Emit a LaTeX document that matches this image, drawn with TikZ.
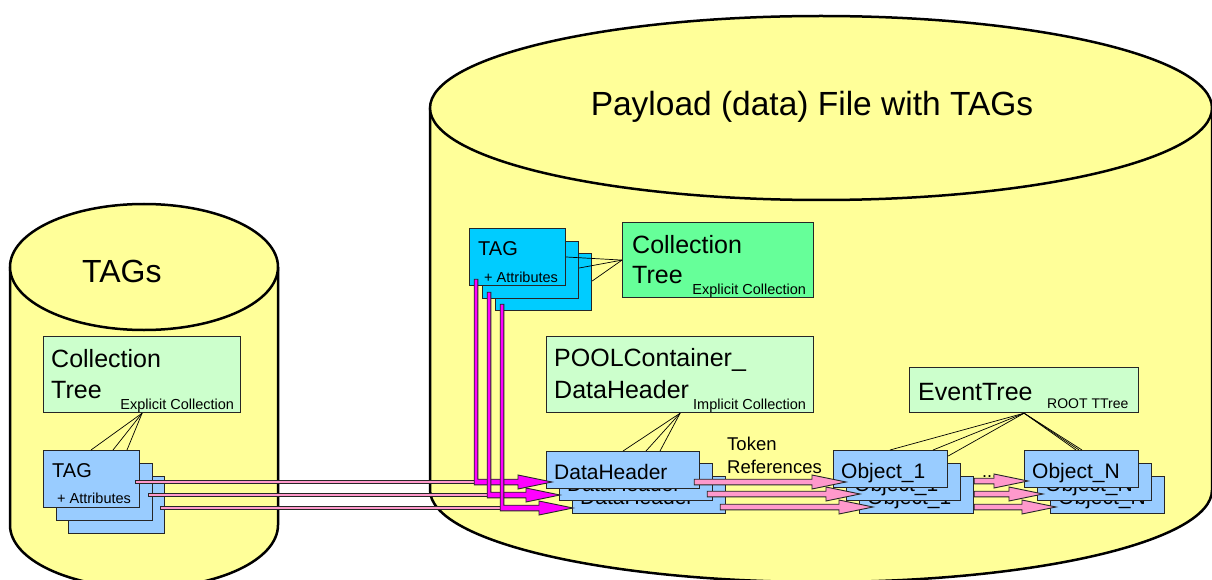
\documentclass[tikz,border=0pt]{standalone}
\usepackage{fontspec}
\setmainfont{Liberation Sans}
\usetikzlibrary{calc}

\definecolor{cylfill}{HTML}{FFFF99}
\definecolor{palegreen}{HTML}{CCFFCC}
\definecolor{brightgreen}{HTML}{66FF99}
\definecolor{lightblue}{HTML}{99CCFF}
\definecolor{tagcyan}{HTML}{00CCFF}
\definecolor{refpink}{HTML}{FF99CC}
\definecolor{refmagenta}{HTML}{FF00FF}

\newcommand\fs[1]{\fontsize{#1}{#1}\selectfont}

% block arrow geometry: shaft half width, thin bar half width, head half width, head length
\def\sw{2.8}
\def\bw{1.8}
\def\hw{7}
\def\hl{34}

% straight horizontal block arrow: fill, start point, node/coordinate giving the tip x
\newcommand\hblock[3]{%
  \coordinate (hb-s) at (#2);
  \coordinate (hb-t) at (hb-s -| #3);
  \filldraw[arrowline, fill=#1]
    ($(hb-s)+(0,-\sw)$) -- ($(hb-t)+(-\hl,-\sw)$) -- ($(hb-t)+(-\hl,-\hw)$) -- (hb-t)
    -- ($(hb-t)+(-\hl,\hw)$) -- ($(hb-t)+(-\hl,\sw)$) -- ($(hb-s)+(0,\sw)$) -- cycle;
}
% thin bar without head: fill, start point, coordinate giving the end x
\newcommand\plainbar[3]{%
  \coordinate (hr-s) at (#2);
  \coordinate (hr-t) at (hr-s -| #3);
  \filldraw[arrowline, fill=#1]
    ($(hr-s)+(0,-\bw)$) -- ($(hr-t)+(0,-\bw)$) -- ($(hr-t)+(0,\bw)$) -- ($(hr-s)+(0,\bw)$) -- cycle;
}
% L-shaped block arrow: fill, top of vertical leg, row point, tip x
\newcommand\lblock[4]{%
  \coordinate (lb-top) at (#2);
  \coordinate (lb-c) at (lb-top |- #3);
  \coordinate (lb-t) at (lb-c -| #4);
  \filldraw[arrowline, fill=#1]
    ($(lb-top)+(-\bw,0)$) -- ($(lb-c)+(-\bw,\sw)$) -- ($(lb-t)+(-\hl,\sw)$)
    -- ($(lb-t)+(-\hl,\hw)$) -- (lb-t) -- ($(lb-t)+(-\hl,-\hw)$)
    -- ($(lb-t)+(-\hl,-\sw)$) -- ($(lb-c)+(\bw,-\sw)$) -- ($(lb-top)+(\bw,0)$) -- cycle;
}

% one box of a stack, with its label
\newcommand\stackbox[6]{% name, x, y, w, fill, text
  \node[box, fill=#5, minimum width=#4] (#1) at (#2,#3) {};
  \node[txt, anchor=base west, font=\fs{21}] (#1-t) at ($(#1.north west)+(8,28)$) {#6};
}
\newcommand\tagbox[4]{% name, x, y, fill
  \node[box, fill=#4, minimum width=96, minimum height=57] (#1) at (#2,#3) {};
}

\begin{document}
\begin{tikzpicture}[x=1pt, y=-1pt,
  box/.style={draw=black!85, line width=1.2, inner sep=0, anchor=north west, minimum height=37},
  txt/.style={inner sep=0, text=black},
  cylline/.style={draw=black, line width=2.5},
  link/.style={draw=black, line width=0.7},
  arrowline/.style={draw=black!85, line width=0.9, line join=miter}]
\useasboundingbox (0,0) rectangle (1212,580);

% ---------- TAG database (left cylinder) ----------
\fill[cylfill] (10,267) -- (10,525) arc[start angle=180, end angle=0, x radius=134, y radius=63] -- (278,267) -- cycle;
\draw[cylline] (10,267) -- (10,525) arc[start angle=180, end angle=0, x radius=134, y radius=63] -- (278,267);
\draw[cylline, fill=cylfill] (144,267) ellipse [x radius=134, y radius=63];
\node[txt, anchor=base west, font=\fs{32}] (tagsTitle) at (82,282) {TAGs};

% ---------- payload file (right cylinder) ----------
\fill[cylfill] (430,108) -- (430,490) arc[start angle=180, end angle=0, x radius=391, y radius=92] -- (1212,108) -- cycle;
\draw[cylline] (430,108) -- (430,490) arc[start angle=180, end angle=0, x radius=391, y radius=92] -- (1212,108);
\draw[cylline, fill=cylfill] (821,108) ellipse [x radius=391, y radius=92];
\node[txt, anchor=base, font=\fs{33.5}] (payTitle) at (812,116) {Payload (data) File with TAGs};

% ---------- left collection tree ----------
\node[box, fill=palegreen, minimum width=197, minimum height=76] (ctL) at (43,336) {};
\node[txt, anchor=base west, font=\fs{25}] (ctL-a) at ($(ctL.north west)+(8,31)$) {Collection};
\node[txt, anchor=base west, font=\fs{25}] (ctL-b) at ($(ctL.north west)+(8,62)$) {Tree};
\node[txt, anchor=base east, font=\fs{14.5}] (ctL-c) at ($(ctL.south east)+(-7,-4)$) {Explicit Collection};

% left TAG stack
\tagbox{tagL3}{68}{476}{lightblue}
\tagbox{tagL2}{56}{463}{lightblue}
\tagbox{tagL1}{43}{450}{lightblue}
\node[txt, anchor=base west, font=\fs{20}] (tagL1-a) at ($(tagL1.north west)+(9,27)$) {TAG};
\node[txt, anchor=base west, font=\fs{14.5}] (tagL1-b) at ($(tagL1.north west)+(14,53)$) {+ Attributes};

\draw[link] (ctL.south) -- ($(tagL1.north west)+(48,0)$);
\draw[link] (ctL.south) -- ($(tagL1.north west)+(70,0)$);
\draw[link] (ctL.south) -- ($(tagL1.north west)+(84,0)$);

% ---------- right collection tree ----------
\node[box, fill=brightgreen, minimum width=191, minimum height=75] (ctR) at (622,222) {};
\node[txt, anchor=base west, font=\fs{25}] (ctR-a) at ($(ctR.north west)+(10,31)$) {Collection};
\node[txt, anchor=base west, font=\fs{25}] (ctR-b) at ($(ctR.north west)+(10,61)$) {Tree};
\node[txt, anchor=base east, font=\fs{14.5}] (ctR-c) at ($(ctR.south east)+(-8,-4)$) {Explicit Collection};

% right TAG stack
\tagbox{tagR3}{495}{253}{tagcyan}
\tagbox{tagR2}{482}{241}{tagcyan}
\tagbox{tagR1}{469}{228}{tagcyan}
\node[txt, anchor=base west, font=\fs{20}] (tagR1-a) at ($(tagR1.north west)+(9,27)$) {TAG};
\node[txt, anchor=base west, font=\fs{14.5}] (tagR1-b) at ($(tagR1.north west)+(15,54)$) {+ Attributes};

\draw[link] (ctR.west) -- ($(tagR1.north east)+(0,29)$);
\draw[link] (ctR.west) -- ($(tagR2.north east)+(0,27)$);
\draw[link] (ctR.west) -- ($(tagR3.north east)+(0,28)$);

% ---------- POOL container ----------
\node[box, fill=palegreen, minimum width=267, minimum height=76] (pool) at (546,336) {};
\node[txt, anchor=base west, font=\fs{25}] (pool-a) at ($(pool.north west)+(8,30)$) {POOLContainer\_};
\node[txt, anchor=base west, font=\fs{25}] (pool-b) at ($(pool.north west)+(8,62)$) {DataHeader};
\node[txt, anchor=base east, font=\fs{14.5}] (pool-c) at ($(pool.south east)+(-8,-4)$) {Implicit Collection};

% DataHeader stack
\stackbox{dh3}{572}{476}{153}{lightblue}{DataHeader}
\stackbox{dh2}{559}{463}{153}{lightblue}{DataHeader}
\stackbox{dh1}{546}{451}{153}{lightblue}{DataHeader}

\draw[link] (pool.south) -- ($(dh1.north west)+(77,0)$);
\draw[link] (pool.south) -- ($(dh1.north west)+(100,0)$);
\draw[link] (pool.south) -- ($(dh1.north west)+(114,0)$);

\node[txt, anchor=base west, font=\fs{18.5}] (tokA) at (727,450) {Token};
\node[txt, anchor=base west, font=\fs{18.5}] (tokB) at (727,473) {References};

% ---------- event tree ----------
\node[box, fill=palegreen, minimum width=229, minimum height=45] (evt) at (909,367) {};
\node[txt, anchor=base west, font=\fs{25}] (evt-a) at ($(evt.north west)+(9,33)$) {EventTree};
\node[txt, anchor=base west, font=\fs{14}] (evt-b) at ($(evt.north west)+(138,41)$) {ROOT TTree};

% Object_1 stack
\stackbox{objA3}{859}{476}{114}{lightblue}{Object\_1}
\stackbox{objA2}{846}{463}{114}{lightblue}{Object\_1}
\stackbox{objA1}{833}{450}{114}{lightblue}{Object\_1}

% Object_N stack
\stackbox{objN3}{1050}{476}{114}{lightblue}{Object\_N}
\stackbox{objN2}{1037}{463}{114}{lightblue}{Object\_N}
\stackbox{objN1}{1024}{450}{114}{lightblue}{Object\_N}

\node[txt, anchor=base west, font=\fs{18}] (dots) at (982,477) {...};

\draw[link] (evt.south) -- ($(objA1.north west)+(57,0)$);
\draw[link] (evt.south) -- ($(objA1.north west)+(100,0)$);
\draw[link] (evt.south) -- ($(objA1.north east)+(0,6)$);
\draw[link] (evt.south) -- ($(objN1.north west)+(52,0)$);
\draw[link] (evt.south) -- ($(objN1.north west)+(55,0)$);
\draw[link] (evt.south) -- ($(objN1.north west)+(58,0)$);

% ---------- references ----------
% rows leaving the left TAG stack
\coordinate (rowA) at ($(tagL1.north east)+(-5,32)$);
\coordinate (rowB) at ($(tagL2.north east)+(-5,32)$);
\coordinate (rowC) at ($(tagL3.north east)+(-5,32)$);
% vertical legs leaving the right TAG stack
\coordinate (legA) at ($(tagR1.south west)+(7,-7)$);
\coordinate (legB) at ($(tagR2.south west)+(7,-7)$);
\coordinate (legC) at ($(tagR3.south west)+(7,-7)$);
% tips on the DataHeader stack
\coordinate (dhTipA) at ($(dh1.north west)+(6,0)$);
\coordinate (dhTipB) at ($(dh2.north west)+(1,0)$);
\coordinate (dhTipC) at ($(dh3.north west)+(1,0)$);

\plainbar{refpink}{rowA}{legA}
\plainbar{refpink}{rowB}{legB}
\plainbar{refpink}{rowC}{legC}
\lblock{refmagenta}{legA}{rowA}{dhTipA}
\lblock{refmagenta}{legB}{rowB}{dhTipB}
\lblock{refmagenta}{legC}{rowC}{dhTipC}

% token references DataHeader -> Object_1
\coordinate (objTipA) at ($(objA1.north west)+(13,0)$);
\coordinate (objTipB) at ($(objA2.north west)+(14,0)$);
\coordinate (objTipC) at ($(objA3.north west)+(14,0)$);
\hblock{refpink}{$(dh1.north east)+(-6,31)$}{objTipA}
\hblock{refpink}{$(dh2.north east)+(-6,31)$}{objTipB}
\hblock{refpink}{$(dh3.north east)+(-6,31)$}{objTipC}

% Object_1 -> Object_N
\coordinate (nTipA) at ($(objN1.north west)+(4,0)$);
\coordinate (nTipB) at ($(objN2.north west)+(6,0)$);
\coordinate (nTipC) at ($(objN3.north west)+(6,0)$);
\hblock{refpink}{$(objA3.north east)+(0,5)$}{nTipA}
\hblock{refpink}{$(objA3.north east)+(0,18)$}{nTipB}
\hblock{refpink}{$(objA3.north east)+(0,31)$}{nTipC}
\end{tikzpicture}
\end{document}
